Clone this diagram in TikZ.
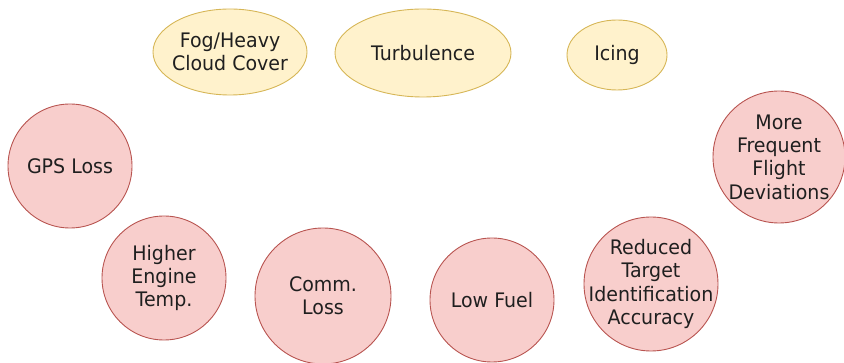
\documentclass[tikz,border=0pt]{standalone}
\usepackage{fontspec}
\setmainfont[FakeStretch=0.95]{DejaVu Sans}
\usetikzlibrary{shapes.geometric}
\definecolor{yfill}{HTML}{FFF2CC}
\definecolor{ydraw}{HTML}{D6B656}
\definecolor{rfill}{HTML}{F8CECC}
\definecolor{rdraw}{HTML}{B85450}
\begin{document}
\begin{tikzpicture}[x=1pt,y=-1pt,
  txt/.style={align=center,font=\fontsize{20}{23.3}\selectfont,text=black!88,inner sep=0pt},
  weather/.style={ellipse,draw=ydraw,fill=yfill,line width=0.9pt,inner sep=0pt},
  effect/.style={ellipse,draw=rdraw,fill=rfill,line width=0.9pt,inner sep=0pt}]
\useasboundingbox (0,0) rectangle (844,363);
% weather ellipses
\node[weather,minimum width=154,minimum height=86,label={[txt]center:Fog/Heavy\\Cloud Cover}] (fog) at (230,52) {};
\node[weather,minimum width=176,minimum height=88,label={[txt]center:Turbulence}] (turb) at (423,53) {};
\node[weather,minimum width=100,minimum height=70,label={[txt]center:Icing}] (ice) at (617,55) {};
% effects
\node[effect,minimum size=124,label={[txt]center:GPS Loss}] (gps) at (70,166) {};
\node[effect,minimum size=124,label={[txt]center:Higher\\Engine\\Temp.}] (eng) at (164,278) {};
\node[effect,minimum size=136,label={[txt]center:Comm.\\Loss}] (comm) at (323,296) {};
\node[effect,minimum size=124,label={[txt]center:Low Fuel}] (fuel) at (492,300) {};
\node[effect,minimum size=134,label={[txt]center:Reduced\\Target\\Identification\\Accuracy}] (rta) at (651,284) {};
\node[effect,minimum size=132,label={[txt]center:More\\Frequent\\Flight\\Deviations}] (mfd) at (779,157) {};
\end{tikzpicture}
\end{document}
